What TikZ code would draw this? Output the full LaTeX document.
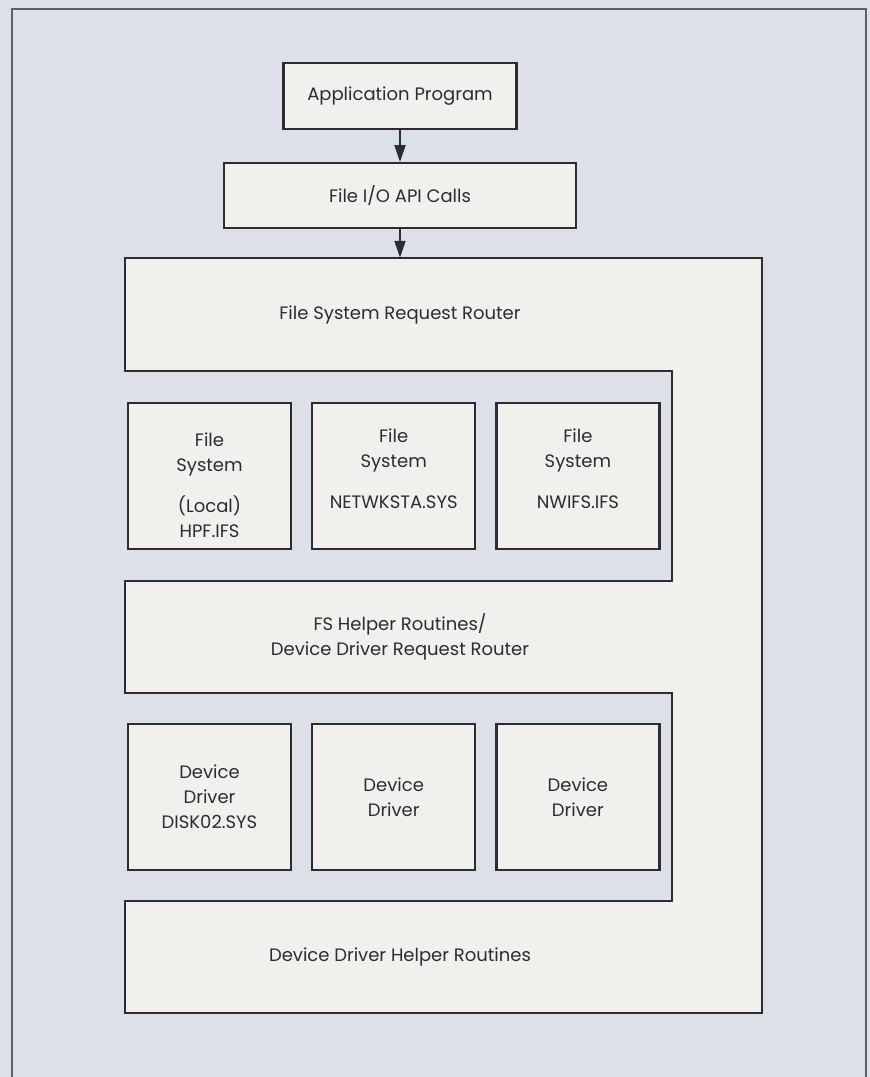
\documentclass[tikz,border=0pt]{standalone}
\usepackage{fontspec}
\setmainfont{Poppins}
\usepackage{xcolor}
\usetikzlibrary{arrows.meta,positioning}
\definecolor{bggray}{RGB}{220,224,232}
\definecolor{panel}{RGB}{241,240,236}
\definecolor{inkgray}{RGB}{44,44,50}
\definecolor{framegray}{RGB}{95,95,102}
\newcommand{\topgap}{\rule{0pt}{32pt}}

\begin{document}
\begin{tikzpicture}[x=1pt, y=-1pt,
        every node/.style={font=\fontsize{18}{25}\selectfont, text=inkgray},
        box/.style={rectangle, draw=inkgray, fill=panel, line width=2.2pt, align=center, inner sep=0pt},
        module/.style={box, minimum width=163pt, minimum height=146pt},
        layer/.style={rectangle, align=center, inner sep=0pt, minimum height=112pt},
        arrow/.style={-{Triangle[length=17pt,width=11pt]}, line width=2pt, draw=inkgray}
    ]
    \useasboundingbox (0,0) rectangle (870,1077);
    \fill[bggray] (0,0) rectangle (870,1077);
    \draw[framegray, line width=2pt] (12,1077) |- (866,9) -- (866,1077);
    \node[box, minimum width=233pt, minimum height=66pt] (app) at (400,96) {Application Program};
    \node[box, minimum width=352pt, minimum height=65pt, below=32pt of app] (fileio) {File I/O API Calls};
    \filldraw[draw=inkgray, fill=panel, line width=2.2pt] (125,258) -- (762,258) -- (762,1013) -- (125,1013)
        -- (125,901) -- (672,901) -- (672,693) -- (125,693) -- (125,581) -- (672,581) -- (672,371) -- (125,371) -- cycle;
    \node[layer, minimum height=113pt] (router) at (400,314.5) {File System Request Router};
    \node[layer] (fshelper) at (400,637) {FS Helper Routines/\\Device Driver Request Router};
    \node[layer] (ddhelper) at (400,957) {Device Driver Helper Routines};
    \node[module] (fslocal) at (209.5,476) {\topgap File\\System\\[16pt](Local)\\HPF.IFS};
    \node[module, right=19pt of fslocal] (fsnet) {\topgap File\\System\\[16pt]NETWKSTA.SYS\\\strut};
    \node[module, right=19pt of fsnet] (fsnw) {\topgap File\\System\\[16pt]NWIFS.IFS\\\strut};
    \node[module] (ddisk) at (209.5,797) {Device\\Driver\\DISK02.SYS};
    \node[module, right=19pt of ddisk] (ddtwo) {Device\\Driver};
    \node[module, right=19pt of ddtwo] (ddthree) {Device\\Driver};
    \draw[arrow] (app) -- (fileio);
    \draw[arrow] (fileio) -- (router);
\end{tikzpicture}
\end{document}
